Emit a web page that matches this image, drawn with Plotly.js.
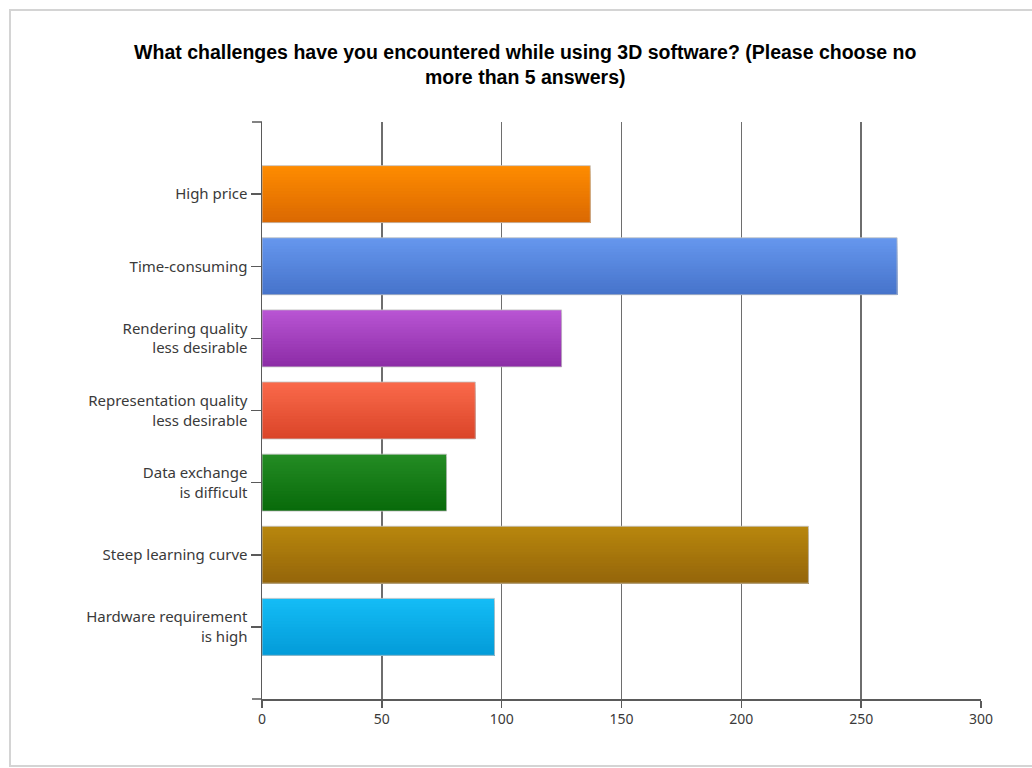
<!DOCTYPE html>
<html>
<head>
<meta charset="utf-8">
<script src="https://cdn.plot.ly/plotly-3.0.1.min.js"></script>
<style>html,body{margin:0;padding:0;background:#fff;}#chart{width:1032px;height:768px;}</style>
</head>
<body>
<div id="chart"></div>
<script>
const categories = [
  "High price",
  "Time-consuming",
  "Rendering quality<br>less desirable",
  "Representation quality<br>less desirable",
  "Data exchange<br>is difficult",
  "Steep learning curve",
  "Hardware requirement<br>is high"
];
const values = [137, 265, 125, 89, 77, 228, 97];
const topColors = ["#FF8C00", "#6697EE", "#B955D4", "#FA6A4B", "#248C24", "#B8870D", "#14BDF6"];
const bottomColors = ["#DA6802", "#4673CA", "#8C2CA6", "#DA4428", "#086A0A", "#94650A", "#039BD8"];
const xTicks = [0, 50, 100, 150, 200, 250, 300];

function hex(c){return [parseInt(c.slice(1,3),16),parseInt(c.slice(3,5),16),parseInt(c.slice(5,7),16)];}
function mix(a,b,t){const A=hex(a),B=hex(b);return 'rgb('+A.map((v,i)=>Math.round(v+(B[i]-v)*t)).join(',')+')';}

const W = 0.79, N = 20;
const traces = [];
for (let k = 0; k < N; k++) {
  traces.push({
    type: 'bar', orientation: 'h',
    y: categories, x: values,
    width: W - k * W / N,
    offset: -W / 2 + k * W / N,
    marker: {color: categories.map((_, i) => mix(topColors[i], bottomColors[i], (k + 0.5) / N)), line: {width: 0}},
    hoverinfo: 'skip', showlegend: false
  });
}
traces.push({
  type: 'bar', orientation: 'h',
  y: categories, x: values,
  width: W, offset: -W / 2,
  marker: {color: 'rgba(0,0,0,0)', line: {color: 'rgba(195,195,195,0.8)', width: 1}},
  showlegend: false
});

const px = p => (p - 262) / 719;
const py = p => (699 - p) / 577;

const layout = {
  width: 1032, height: 768,
  margin: {l: 262, r: 51, t: 122, b: 69},
  paper_bgcolor: '#ffffff', plot_bgcolor: '#ffffff',
  barmode: 'overlay',
  title: {
    text: '<b>What challenges have you encountered while using 3D software? (Please choose no<br>more than 5 answers)</b>',
    x: 0.509, xref: 'container', xanchor: 'center',
    y: 1 - 59 / 768, yref: 'container', yanchor: 'middle',
    font: {family: 'Liberation Sans, Arial, sans-serif', size: 19.5, color: '#000'}
  },
  xaxis: {
    range: [0, 300], tickvals: xTicks, ticktext: xTicks.map(String),
    showgrid: true, gridcolor: '#6e6e6e', gridwidth: 1.5,
    zeroline: false,
    showline: true, linecolor: '#5a5a5a', linewidth: 1.5,
    ticks: 'outside', ticklen: 7, tickcolor: '#5a5a5a', tickwidth: 1.5,
    tickfont: {family: 'Noto Sans, sans-serif', size: 14, color: '#3a3a3a'},
    fixedrange: true
  },
  yaxis: {
    type: 'category', categoryorder: 'array', categoryarray: categories,
    range: [7, -1],
    showgrid: false, zeroline: false,
    showline: true, linecolor: '#5a5a5a', linewidth: 1.5,
    ticks: 'outside', ticklen: 10, tickcolor: '#5a5a5a', tickwidth: 1.5,
    tickfont: {family: 'Noto Sans, sans-serif', size: 15, color: '#3a3a3a'},
    fixedrange: true
  },
  shapes: [
    {type: 'rect', xref: 'paper', yref: 'paper', x0: px(10), x1: px(1040), y0: py(766), y1: py(10),
     line: {color: '#d4d4d4', width: 2}, fillcolor: 'rgba(0,0,0,0)', layer: 'below'},
    {type: 'line', xref: 'paper', yref: 'paper', x0: px(252), x1: 0, y0: 1, y1: 1,
     line: {color: '#5a5a5a', width: 1.5}},
    {type: 'line', xref: 'paper', yref: 'paper', x0: px(252), x1: 0, y0: 0, y1: 0,
     line: {color: '#5a5a5a', width: 1.5}}
  ]
};

Plotly.newPlot('chart', traces, layout, {displayModeBar: false, staticPlot: true});
</script>
</body>
</html>
